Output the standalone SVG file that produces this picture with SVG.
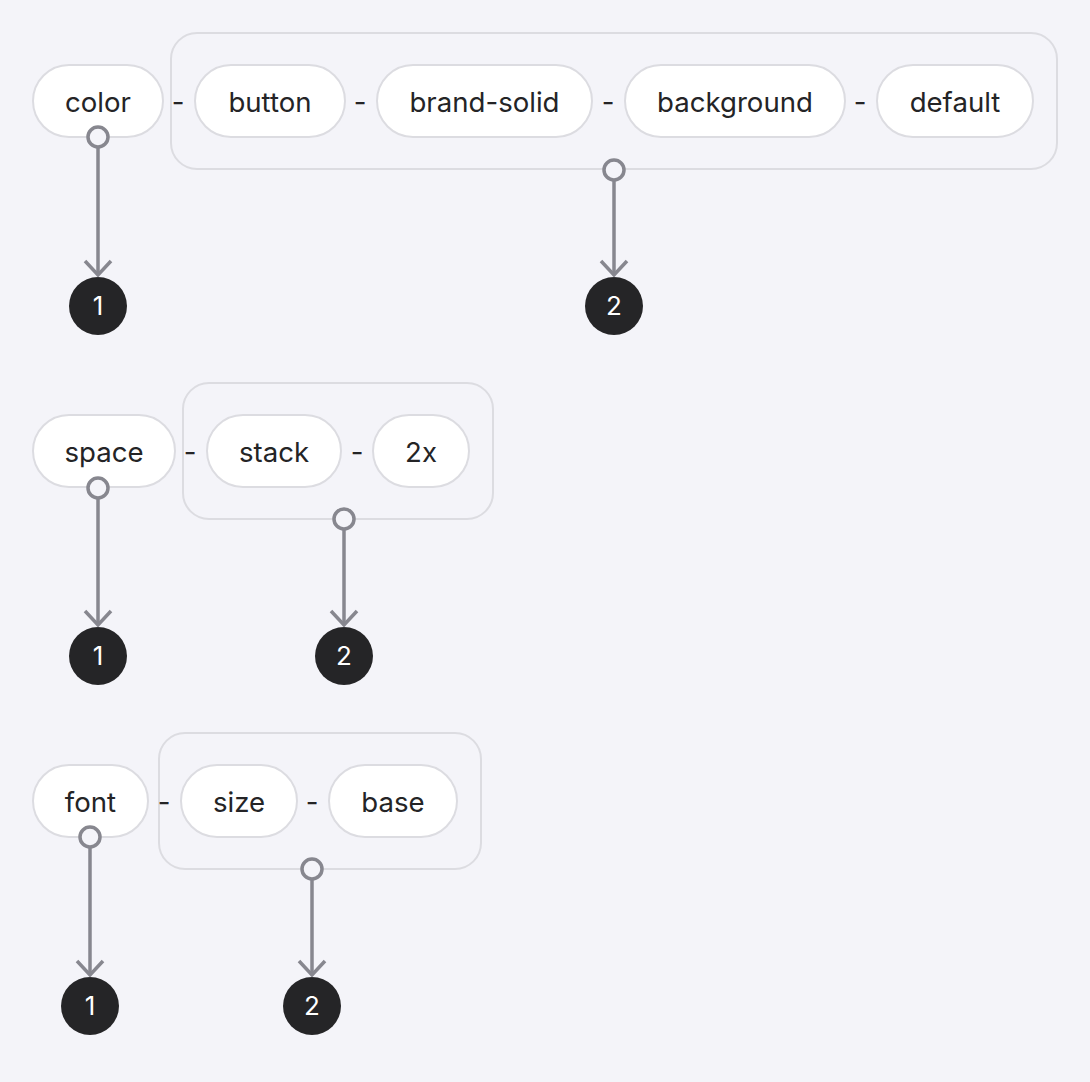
<svg xmlns="http://www.w3.org/2000/svg" width="1090" height="1082" viewBox="0 0 1090 1082">
<defs>
<style>
.bg{fill:#f4f4f9}
.box{fill:none;stroke:#dcdce1;stroke-width:2}
.pill{fill:#ffffff;stroke:#dcdce1;stroke-width:2}
.t{font-family:Inter,"Liberation Sans",sans-serif;font-size:27.6px;fill:#242426;text-anchor:middle}
.sep{font-family:Inter,"Liberation Sans",sans-serif;font-size:27.6px;fill:#242426;text-anchor:middle}
.badge{fill:#252527}
.bt{font-family:Inter,"Liberation Sans",sans-serif;font-size:26px;fill:#ffffff;text-anchor:middle}
.conn{stroke:#87878f;stroke-width:3.5;fill:none}
.dot{fill:#f4f4f9;stroke:#87878f;stroke-width:3.5}
</style>
<marker id="arr" viewBox="0 0 20 32" refX="17" refY="16" markerWidth="20" markerHeight="32" markerUnits="userSpaceOnUse" orient="auto">
<path d="M3 3 L17 16 L3 29" fill="none" stroke="#87878f" stroke-width="3.5"/>
</marker>
</defs>
<rect class="bg" x="0" y="0" width="1090" height="1082"/>

<!-- Row 1 -->
<g id="group-color">
<rect class="box" x="171" y="33" width="886" height="136" rx="26"/>
</g>
<g id="node-color"><rect class="pill" x="33" y="65" width="130" height="72" rx="36"/><text class="t" x="98" y="111.5">color</text></g>
<text class="sep" x="178" y="111.5">-</text>
<g id="node-button"><rect class="pill" x="195" y="65" width="150" height="72" rx="36"/><text class="t" x="270" y="111.5">button</text></g>
<text class="sep" x="360" y="111.5">-</text>
<g id="node-brand-solid"><rect class="pill" x="377" y="65" width="215" height="72" rx="36"/><text class="t" x="484.5" y="111.5">brand-solid</text></g>
<text class="sep" x="608" y="111.5">-</text>
<g id="node-background"><rect class="pill" x="625" y="65" width="220" height="72" rx="36"/><text class="t" x="735" y="111.5">background</text></g>
<text class="sep" x="860" y="111.5">-</text>
<g id="node-default"><rect class="pill" x="877" y="65" width="156" height="72" rx="36"/><text class="t" x="955" y="111.5">default</text></g>
<g id="badge-1a"><circle class="badge" cx="98" cy="306" r="29"/><text class="bt" x="98" y="315">1</text></g>
<g id="badge-2a"><circle class="badge" cx="614" cy="306" r="29"/><text class="bt" x="614" y="315">2</text></g>

<!-- Row 2 -->
<g id="group-space"><rect class="box" x="183" y="383" width="310" height="136" rx="26"/></g>
<g id="node-space"><rect class="pill" x="33" y="415" width="142" height="72" rx="36"/><text class="t" x="104" y="461.5">space</text></g>
<text class="sep" x="190" y="461.5">-</text>
<g id="node-stack"><rect class="pill" x="207" y="415" width="134" height="72" rx="36"/><text class="t" x="274" y="461.5">stack</text></g>
<text class="sep" x="357" y="461.5">-</text>
<g id="node-2x"><rect class="pill" x="373" y="415" width="96" height="72" rx="36"/><text class="t" x="421" y="461.5">2x</text></g>
<g id="badge-1b"><circle class="badge" cx="98" cy="656" r="29"/><text class="bt" x="98" y="665">1</text></g>
<g id="badge-2b"><circle class="badge" cx="344" cy="656" r="29"/><text class="bt" x="344" y="665">2</text></g>

<!-- Row 3 -->
<g id="group-font"><rect class="box" x="159" y="733" width="322" height="136" rx="26"/></g>
<g id="node-font"><rect class="pill" x="33" y="765" width="115" height="72" rx="36"/><text class="t" x="90.5" y="811.5">font</text></g>
<text class="sep" x="164" y="811.5">-</text>
<g id="node-size"><rect class="pill" x="181" y="765" width="116" height="72" rx="36"/><text class="t" x="239" y="811.5">size</text></g>
<text class="sep" x="312" y="811.5">-</text>
<g id="node-base"><rect class="pill" x="329" y="765" width="128" height="72" rx="36"/><text class="t" x="393" y="811.5">base</text></g>
<g id="badge-1c"><circle class="badge" cx="90" cy="1006" r="29"/><text class="bt" x="90" y="1015">1</text></g>
<g id="badge-2c"><circle class="badge" cx="312" cy="1006" r="29"/><text class="bt" x="312" y="1015">2</text></g>

<g id="connectors">
<line class="conn" x1="98" y1="147" x2="98" y2="275" marker-end="url(#arr)"/>
<circle class="dot" cx="98" cy="137" r="10"/>
<line class="conn" x1="614" y1="180" x2="614" y2="275" marker-end="url(#arr)"/>
<circle class="dot" cx="614" cy="170" r="10"/>
<line class="conn" x1="98" y1="498" x2="98" y2="625" marker-end="url(#arr)"/>
<circle class="dot" cx="98" cy="488" r="10"/>
<line class="conn" x1="344" y1="529" x2="344" y2="625" marker-end="url(#arr)"/>
<circle class="dot" cx="344" cy="519" r="10"/>
<line class="conn" x1="90" y1="847" x2="90" y2="975" marker-end="url(#arr)"/>
<circle class="dot" cx="90" cy="837" r="10"/>
<line class="conn" x1="312" y1="879" x2="312" y2="975" marker-end="url(#arr)"/>
<circle class="dot" cx="312" cy="869" r="10"/>
</g>
</svg>
